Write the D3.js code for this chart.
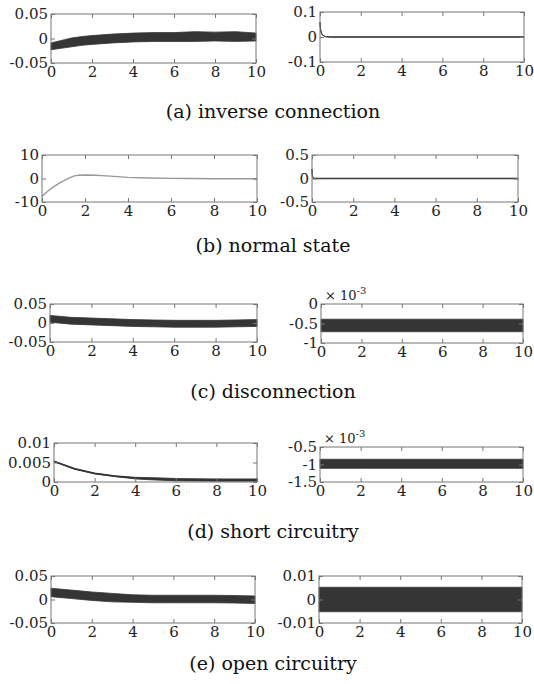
<!DOCTYPE html>
<html>
<head>
<meta charset="utf-8">
<script src="https://cdn.jsdelivr.net/npm/d3@7"></script>
<style>
  body { margin: 0; background: #fff; }
  svg text { font-family: "DejaVu Serif", serif; }
</style>
</head>
<body>
<svg id="chart" width="534" height="684"></svg>
<script>
// x axis is shared: time 0..10
const xTicks = [0, 2, 4, 6, 8, 10];

// (a) inverse connection
const aLeftT = [0, 0.5, 1, 1.5, 2, 3, 4, 5, 6, 7, 8, 9, 10];
const aLeftMid = [-0.016, -0.012, -0.008, -0.005, -0.003, 0, 0.002, 0.003, 0.003, 0.004, 0.004, 0.004, 0.003];
const aLeftHalf = [0.007, 0.008, 0.009, 0.009, 0.009, 0.009, 0.009, 0.009, 0.009, 0.01, 0.009, 0.01, 0.008];
const aRightT = [0, 0.02, 0.05, 0.1, 0.2, 0.3, 0.5, 10];
const aRightMid = [0.06, 0.035, 0.02, 0.01, 0.004, 0.001, 0, 0];
const aRightHalf = [0, 0, 0, 0, 0, 0, 0.001, 0.001];

// (b) normal state
const bLeftT = [0, 0.25, 0.5, 0.75, 1, 1.25, 1.5, 1.7, 2, 2.5, 3, 3.5, 4, 5, 6, 7, 8, 10];
const bLeftMid = [-7.5, -5.5, -3.8, -2.3, -1, 0.2, 1.1, 1.4, 1.5, 1.4, 1.1, 0.8, 0.5, 0.2, 0.05, 0, -0.1, -0.1];
const bRightT = [0, 0.01, 0.03, 0.1, 10];
const bRightMid = [0.2, 0.1, 0.03, 0, 0];
const bRightHalf = [0, 0, 0, 0.008, 0.008];

// (c) disconnection  (right panel in units of 1e-3)
const cLeftT = [0, 1, 2, 3, 4, 5, 6, 7, 8, 9, 10];
const cLeftMid = [0.011, 0.006, 0.004, 0.002, 0, -0.001, -0.002, -0.002, -0.002, -0.001, 0];
const cLeftHalf = [0.009, 0.009, 0.009, 0.009, 0.009, 0.009, 0.009, 0.009, 0.009, 0.009, 0.009];
const cRightT = [0, 2, 4, 6, 8, 10];
const cRightMid = [-0.55, -0.55, -0.55, -0.55, -0.55, -0.55];
const cRightHalf = [0.16, 0.16, 0.16, 0.16, 0.16, 0.16];

// (d) short circuitry  (right panel in units of 1e-3)
const dLeftT = [0, 1, 2, 3, 4, 5, 6, 8, 10];
const dLeftMid = [0.0053, 0.0034, 0.0022, 0.0015, 0.001, 0.0008, 0.0006, 0.0005, 0.0005];
const dLeftHalf = [0.0001, 0.0001, 0.0001, 0.0001, 0.0002, 0.0003, 0.0003, 0.0003, 0.0003];
const dRightT = [0, 2, 4, 6, 8, 10];
const dRightMid = [-0.98, -0.98, -0.98, -0.98, -0.98, -0.98];
const dRightHalf = [0.13, 0.13, 0.13, 0.13, 0.13, 0.13];

// (e) open circuitry
const eLeftT = [0, 1, 2, 3, 4, 5, 6, 7, 8, 9, 10];
const eLeftMid = [0.015, 0.011, 0.007, 0.004, 0.002, 0.001, 0.001, 0.001, 0.001, 0.0005, -0.0005];
const eLeftHalf = [0.009, 0.009, 0.009, 0.009, 0.008, 0.008, 0.008, 0.008, 0.008, 0.008, 0.008];
const eRightT = [0, 10];
const eRightMid = [0, 0];
const eRightHalf = [0.0052, 0.0052];

const captions = ["(a) inverse connection", "(b) normal state", "(c) disconnection", "(d) short circuitry", "(e) open circuitry"];

// panel setup: frame = [x0, x1, y0, y1] in pixels
const panels = [
  { frame: [51, 256, 14, 63], dom: [-0.05, 0.05], yt: [0.05, 0, -0.05], yl: ["0.05", "0", "-0.05"], t: aLeftT, mid: aLeftMid, half: aLeftHalf, color: "#353535" },
  { frame: [320, 524, 12, 62], dom: [-0.1, 0.1], yt: [0.1, 0, -0.1], yl: ["0.1", "0", "-0.1"], t: aRightT, mid: aRightMid, half: aRightHalf, color: "#444" },
  { frame: [42, 257, 155, 202], dom: [-10, 10], yt: [10, 0, -10], yl: ["10", "0", "-10"], t: bLeftT, mid: bLeftMid, color: "#999", width: 1.4 },
  { frame: [312, 518, 155, 202], dom: [-0.5, 0.5], yt: [0.5, 0, -0.5], yl: ["0.5", "0", "-0.5"], t: bRightT, mid: bRightMid, half: bRightHalf, color: "#444" },
  { frame: [50, 257, 304, 342], dom: [-0.05, 0.05], yt: [0.05, 0, -0.05], yl: ["0.05", "0", "-0.05"], t: cLeftT, mid: cLeftMid, half: cLeftHalf, color: "#353535" },
  { frame: [321, 523, 304, 343], dom: [-1, 0], yt: [0, -0.5, -1], yl: ["0", "-0.5", "-1"], t: cRightT, mid: cRightMid, half: cRightHalf, color: "#353535", exp: true },
  { frame: [54, 257, 443, 482], dom: [0, 0.01], yt: [0.01, 0.005, 0], yl: ["0.01", "0.005", "0"], t: dLeftT, mid: dLeftMid, half: dLeftHalf, color: "#333", width: 1.5 },
  { frame: [320, 523, 447, 482], dom: [-1.5, -0.5], yt: [-0.5, -1, -1.5], yl: ["-0.5", "-1", "-1.5"], t: dRightT, mid: dRightMid, half: dRightHalf, color: "#353535", exp: true },
  { frame: [51, 255, 576, 623], dom: [-0.05, 0.05], yt: [0.05, 0, -0.05], yl: ["0.05", "0", "-0.05"], t: eLeftT, mid: eLeftMid, half: eLeftHalf, color: "#353535" },
  { frame: [319, 522, 576, 623], dom: [-0.01, 0.01], yt: [0.01, 0, -0.01], yl: ["0.01", "0", "-0.01"], t: eRightT, mid: eRightMid, half: eRightHalf, color: "#353535" }
];
const captionY = [118, 252, 398, 538, 670];

const svg = d3.select("#chart");

panels.forEach(function (p) {
  const [x0, x1, y0, y1] = p.frame;
  const x = d3.scaleLinear().domain([0, 10]).range([x0, x1]);
  const y = d3.scaleLinear().domain(p.dom).range([y1, y0]);
  const g = svg.append("g");

  const pts = p.t.map((t, i) => ({ t: t, m: p.mid[i], h: p.half ? p.half[i] : 0 }));

  if (p.half) {
    const band = d3.area()
      .x(d => x(d.t))
      .y0(d => y(d.m - d.h))
      .y1(d => y(d.m + d.h));
    g.append("path").datum(pts)
      .attr("d", band)
      .attr("fill", p.color)
      .attr("stroke", p.color)
      .attr("stroke-width", 0.8);
  }
  const line = d3.line().x(d => x(d.t)).y(d => y(d.m));
  g.append("path").datum(pts)
    .attr("d", line)
    .attr("fill", "none")
    .attr("stroke", p.color)
    .attr("stroke-width", p.width || 1);

  // box
  g.append("rect")
    .attr("x", x0).attr("y", y0)
    .attr("width", x1 - x0).attr("height", y1 - y0)
    .attr("fill", "none").attr("stroke", "#777").attr("stroke-width", 1);

  const fmt = v => p.yl[p.yt.indexOf(v)];
  const axes = [
    g.append("g").attr("transform", `translate(0,${y1})`)
      .call(d3.axisBottom(x).tickValues(xTicks).tickSizeInner(-4).tickSizeOuter(0).tickPadding(3)),
    g.append("g").attr("transform", `translate(0,${y0})`)
      .call(d3.axisTop(x).tickValues(xTicks).tickSizeInner(-4).tickSizeOuter(0).tickFormat("")),
    g.append("g").attr("transform", `translate(${x0},0)`)
      .call(d3.axisLeft(y).tickValues(p.yt).tickSizeInner(-4).tickSizeOuter(0).tickPadding(3).tickFormat(fmt)),
    g.append("g").attr("transform", `translate(${x1},0)`)
      .call(d3.axisRight(y).tickValues(p.yt).tickSizeInner(-4).tickSizeOuter(0).tickFormat(""))
  ];
  axes.forEach(a => {
    a.attr("font-family", null).attr("font-size", null);
    a.select(".domain").remove();
    a.selectAll("line").attr("stroke", "#777");
    a.selectAll("text").style("font-size", "15px").attr("fill", "#222");
  });

  if (p.exp) {
    const e = g.append("text").attr("x", x0 + 4).attr("y", y0 - 4)
      .style("font-size", "13px").attr("fill", "#222");
    e.append("tspan").text("\u00d7 10");
    e.append("tspan").attr("dy", -6).style("font-size", "10px").text("-3");
  }
});

captions.forEach(function (c, i) {
  svg.append("text")
    .attr("x", 273).attr("y", captionY[i])
    .attr("text-anchor", "middle")
    .style("font-size", "19px")
    .attr("fill", "#111")
    .text(c);
});
</script>
</body>
</html>
